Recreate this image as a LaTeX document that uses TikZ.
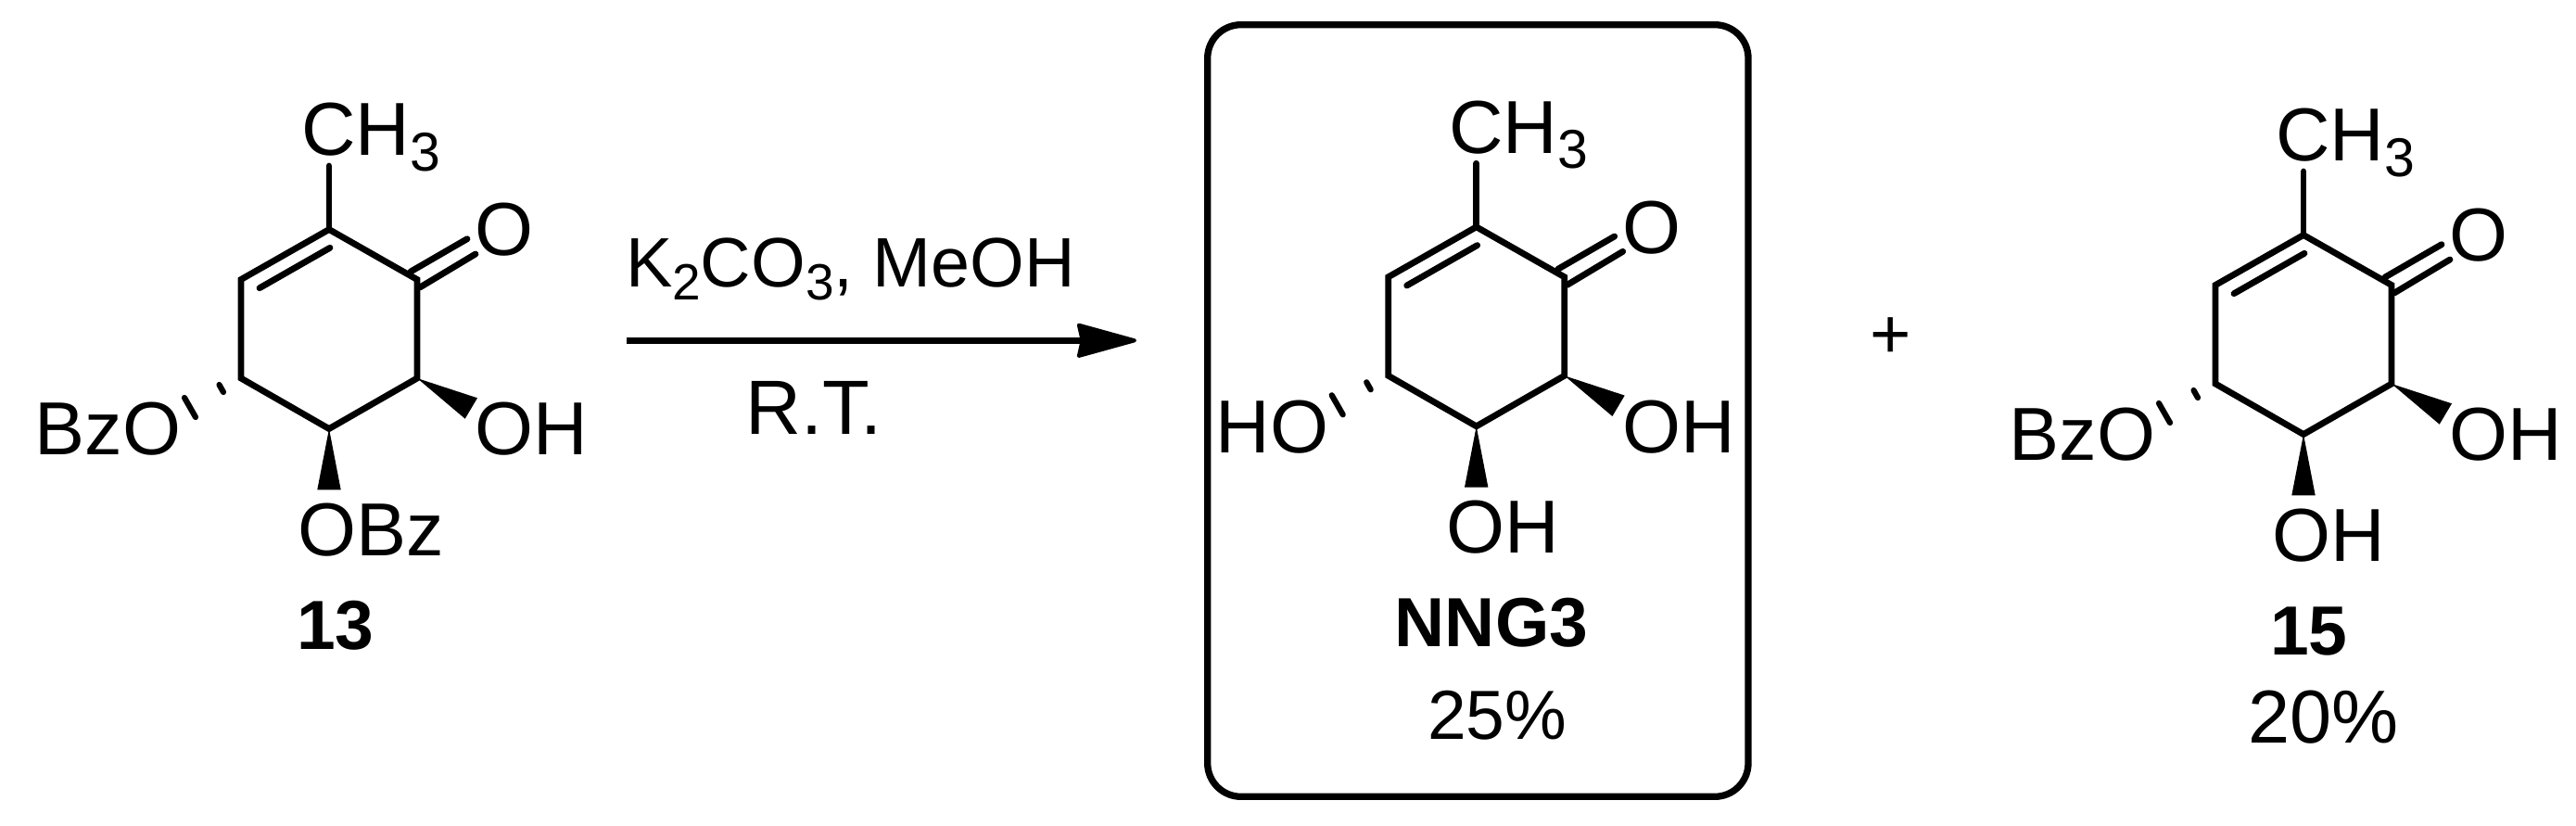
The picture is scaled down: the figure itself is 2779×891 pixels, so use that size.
\documentclass[tikz,border=0pt]{standalone}
\usepackage{fontspec}
\setmainfont{Liberation Sans}
\usetikzlibrary{arrows.meta}
\newcommand{\subS}[1]{\raisebox{-16.5pt}{\fontsize{59}{59}\selectfont #1}}
\newcommand{\subK}[1]{\raisebox{-14.5pt}{\fontsize{55}{55}\selectfont #1}}
\tikzset{
  lbl/.style={inner sep=0pt,outer sep=0pt,anchor=base west,text=black,font=\fontsize{81}{90}\selectfont},
  lblsm/.style={lbl,font=\fontsize{75}{85}\selectfont},
  lblbf/.style={lbl,font=\fontsize{75}{85}\selectfont\bfseries},
  bondline/.style={line width=6.8pt,black,line cap=round,line join=miter},
  hashline/.style={line width=6.2pt,black,line cap=round},
  wedgefill/.style={fill=black,draw=none},
  framebox/.style={line width=7.3pt,black,rounded corners=36pt},
  rxnarrow/.style={line width=6.8pt,black,-{Stealth[length=70pt,width=38pt,inset=4pt,line width=4pt,round]}}
}
% ring, bonds, wedges and the labels common to the three molecules
\newcommand{\molcore}[3]{%
\begin{scope}[shift={(#2,#3)}]
  \coordinate (#1a) at (355,247.5);
  \coordinate (#1b) at (450,301.5);
  \coordinate (#1c) at (450,408);
  \coordinate (#1d) at (355,462.5);
  \coordinate (#1e) at (260,408);
  \coordinate (#1f) at (260,301.5);
  \coordinate (#1me) at (355,179);
  \coordinate (#1ia) at (356,267.3);
  \coordinate (#1ib) at (280,310.7);
  \coordinate (#1oa1) at (443,293);
  \coordinate (#1oa2) at (504,257.7);
  \coordinate (#1ob1) at (453,310);
  \coordinate (#1ob2) at (513,274);
  \coordinate (#1wa1) at (515,429.3);
  \coordinate (#1wa2) at (501.7,451.7);
  \coordinate (#1wb1) at (342.3,528.3);
  \coordinate (#1wb2) at (367.7,528.3);
  \coordinate (#1h1a) at (236.5,415);
  \coordinate (#1h1b) at (241,423);
  \coordinate (#1h2a) at (199,429);
  \coordinate (#1h2b) at (211,450);
  \draw[bondline] (#1a) -- (#1b) -- (#1c) -- (#1d) -- (#1e) -- (#1f) -- cycle;
  \draw[bondline] (#1a) -- (#1me);
  \draw[bondline] (#1ia) -- (#1ib);
  \draw[bondline] (#1oa1) -- (#1oa2);
  \draw[bondline] (#1ob1) -- (#1ob2);
  \fill[wedgefill] (#1c) -- (#1wa1) -- (#1wa2) -- cycle;
  \fill[wedgefill] (#1d) -- (#1wb1) -- (#1wb2) -- cycle;
  \draw[hashline] (#1h1a) -- (#1h1b);
  \draw[hashline] (#1h2a) -- (#1h2b);
  \node[lbl] (#1ch3) at (325.3,167.7) {CH\subS{3}};
  \node[lbl] (#1oxo) at (512.7,275.7) {O};
  \node[lbl] (#1oh) at (512.7,490.7) {OH};
\end{scope}}
\begin{document}
\begin{tikzpicture}[x=1pt,y=-1pt]
\path[fill=white,use as bounding box] (0,0) rectangle (2779,891);
% compound 13
\molcore{p}{0}{0}
\node[lbl] (pbzo) at (37.8,490.7) {BzO};
\node[lbl] (pobz) at (321.4,599.2) {OBz};
\node[lblbf] (pname) at (320,700.5) {13};
% reaction arrow
\coordinate (arrA) at (676,367.3);
\coordinate (arrB) at (1226,367.3);
\draw[rxnarrow] (arrA) -- (arrB);
\node[lbl,font=\fontsize{75.5}{85}\selectfont] (reag) at (675,309) {K\subK{2}CO\subK{3}, MeOH};
\node[lbl,font=\fontsize{83}{90}\selectfont] (cond) at (804.4,468.3) {R.T.};
% framed product
\coordinate (boxA) at (1302.7,26.7);
\coordinate (boxB) at (1886,859.3);
\draw[framebox] (boxA) rectangle (boxB);
\molcore{q}{1237.7}{-2.7}
\node[lbl] (qho) at (1311.8,488) {HO};
\node[lbl] (qoh2) at (1560,596) {OH};
\node[lblbf] (qname) at (1504.7,697.3) {NNG3};
\node[lblsm] (qyield) at (1540,797.3) {25\%};
% plus
\node[lbl,anchor=center,font=\fontsize{76}{80}\selectfont] (plus) at (2040,365) {+};
% compound 15
\molcore{r}{2130}{6}
\node[lbl] (rbzo) at (2167.8,496.7) {BzO};
\node[lbl] (roh2) at (2451.5,605) {OH};
\node[lblbf] (rname) at (2449,706) {15};
\node[lbl] (ryield) at (2425,801.7) {20\%};
\end{tikzpicture}
\end{document}
